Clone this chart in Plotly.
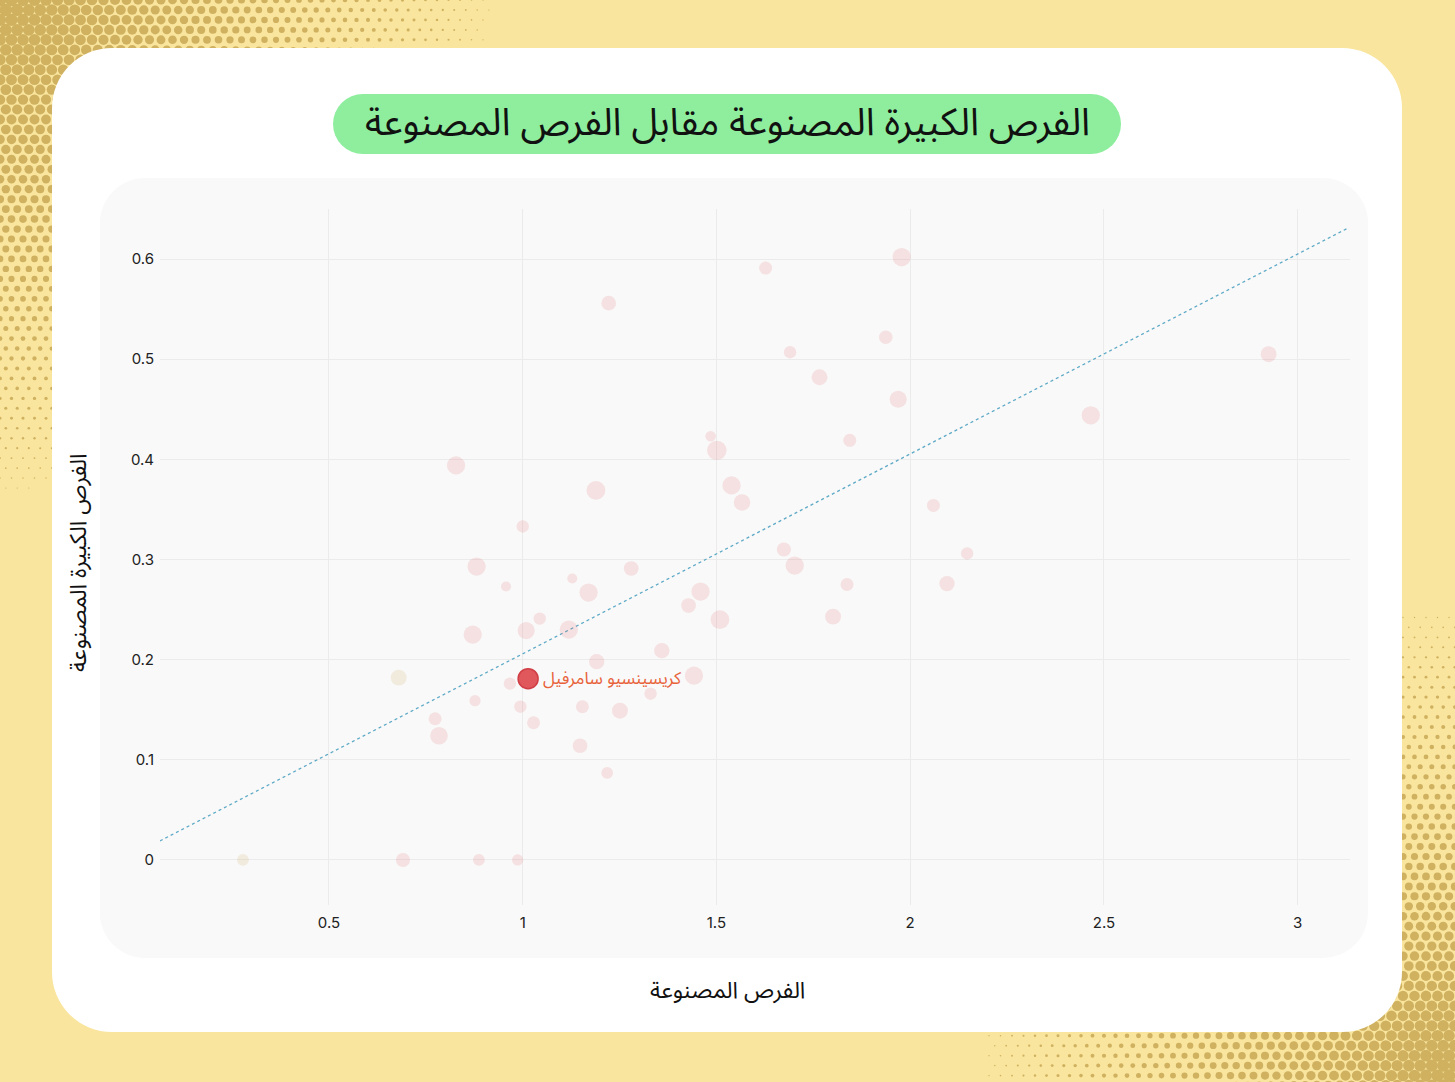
import base64
import math
import plotly.graph_objects as go

# chances created (x) vs big chances created (y), per 90
chances_created = [0.278, 0.680, 0.691, 0.887, 0.987, 0.828, 0.881, 0.871, 0.774, 0.784,
                   0.877, 0.957, 1.000, 1.009, 0.967, 0.994, 1.028, 1.044, 1.128, 1.119,
                   1.170, 1.189, 1.222, 1.191, 1.154, 1.148, 1.218, 1.251, 1.280, 1.330,
                   1.359, 1.428, 1.442, 1.459, 1.485, 1.501, 1.509, 1.539, 1.566, 1.627,
                   1.674, 1.690, 1.702, 1.766, 1.801, 1.837, 1.844, 1.937, 1.969, 1.978,
                   2.060, 2.095, 2.147, 2.466, 2.925]
big_chances = [0.000, 0.182, 0.000, 0.000, 0.000, 0.394, 0.293, 0.225, 0.141, 0.124,
               0.159, 0.273, 0.333, 0.229, 0.176, 0.153, 0.137, 0.241, 0.281, 0.230,
               0.267, 0.369, 0.556, 0.198, 0.153, 0.114, 0.087, 0.149, 0.291, 0.166,
               0.209, 0.254, 0.184, 0.268, 0.423, 0.409, 0.240, 0.374, 0.357, 0.591,
               0.310, 0.507, 0.294, 0.482, 0.243, 0.275, 0.419, 0.522, 0.460, 0.602,
               0.354, 0.276, 0.306, 0.444, 0.505]
matches = [20, 27, 24, 20, 19, 31, 31, 31, 22, 30,
           19, 17, 21, 29, 21, 21, 22, 21, 17, 31,
           31, 32, 25, 26, 22, 25, 20, 27, 25, 21,
           26, 25, 31, 31, 18, 33, 32, 31, 28, 22,
           24, 21, 31, 27, 27, 22, 22, 23, 29, 31,
           22, 26, 21, 31, 27]
group = ["B", "B"] + ["A"] * 53

highlight_name = "كريسينسيو سامرفيل"
highlight_x = 1.014
highlight_y = 0.181
highlight_matches = 34

trend_x = [0.064, 3.13]
trend_y = [0.019, 0.631]

title = "الفرص الكبيرة المصنوعة مقابل الفرص المصنوعة"
x_title = "الفرص المصنوعة"
y_title = "الفرص الكبيرة المصنوعة"

W, H = 1455, 1082
PL, PR, PT, PB = 160, 1350, 209, 905  # plot area in px

arabic_font = "Noto Sans Arabic, DejaVu Sans, sans-serif"
page_bg = "#f9e59d"


def px(xp, yp):
    # screen px -> paper coords
    return (xp - PL) / (PR - PL), (PB - yp) / (PB - PT)


# background: yellow page, halftone corners, white card, title pill, grey panel
def halftone(cx, cy, radius, rmax, step=11.5):
    out = []
    row = step * 0.866
    x_lo, x_hi = max(0, cx - radius), min(W, cx + radius)
    y_lo, y_hi = max(0, cy - radius), min(H, cy + radius)
    for k in range(int(y_lo // row) - 1, int(y_hi // row) + 2):
        for m in range(int(x_lo // step) - 1, int(x_hi // step) + 2):
            x, y = m * step + (k % 2) * step / 2, k * row
            d = math.hypot(x - cx, y - cy)
            r = rmax * (1 - d / radius)
            if r > 0.6:
                out.append(f'<circle cx="{x:.1f}" cy="{y:.1f}" r="{r:.2f}"/>')
    return out


def rect(x, y, w, h, r, fill):
    return f'<rect x="{x}" y="{y}" width="{w}" height="{h}" rx="{r}" ry="{r}" fill="{fill}"/>'


svg = [f'<svg xmlns="http://www.w3.org/2000/svg" width="{W}" height="{H}" viewBox="0 0 {W} {H}">',
       f'<rect width="{W}" height="{H}" fill="{page_bg}"/>',
       '<g fill="#cfb160">']
svg += halftone(0, 0, 540, 6.4)
svg += halftone(W, H, 520, 6.4)
svg += ['</g>',
        rect(52, 48, 1350, 984, 60, "#ffffff"),
        rect(333, 94, 788, 60, 30, "#8eee9e"),
        rect(100, 178, 1268, 780, 45, "#f9f9f9"),
        '</svg>']
bg_uri = "data:image/svg+xml;base64," + base64.b64encode("".join(svg).encode()).decode()

colors = {"A": "rgba(226,115,120,0.26)", "B": "rgba(210,180,110,0.28)"}

fig = go.Figure()

fig.add_trace(go.Scatter(
    x=trend_x, y=trend_y, mode="lines",
    line=dict(color="#5eaac6", width=1.3, dash="3px,3px"),
    hoverinfo="skip", showlegend=False))

fig.add_trace(go.Scatter(
    x=chances_created, y=big_chances, mode="markers",
    marker=dict(size=matches, sizemode="diameter", sizeref=1.7,
                color=[colors[g] for g in group], line=dict(width=0)),
    showlegend=False))

fig.add_trace(go.Scatter(
    x=[highlight_x], y=[highlight_y], mode="markers",
    marker=dict(size=[highlight_matches], sizemode="diameter", sizeref=1.7,
                color="#e0585c", opacity=1, line=dict(color="#d13f46", width=1.5)),
    showlegend=False))

annotations = [
    dict(x=highlight_x, y=highlight_y, xref="x", yref="y", text=highlight_name,
         showarrow=False, xanchor="left", xshift=13,
         font=dict(family=arabic_font, size=17, color="#e8623a")),
]
tx, ty = px(727, 123)
annotations.append(dict(x=tx, y=ty, xref="paper", yref="paper", text=title, showarrow=False,
                        xanchor="center", yanchor="middle",
                        font=dict(family=arabic_font, size=38, color="#111111")))
ax, ay = px(727, 990)
annotations.append(dict(x=ax, y=ay, xref="paper", yref="paper", text=x_title, showarrow=False,
                        xanchor="center", yanchor="middle",
                        font=dict(family=arabic_font, size=23, color="#111111")))
bx, by = px(78, 563)
annotations.append(dict(x=bx, y=by, xref="paper", yref="paper", text=y_title, showarrow=False,
                        textangle=-90, xanchor="center", yanchor="middle",
                        font=dict(family=arabic_font, size=23, color="#111111")))

ix, iy = px(0, 0)
fig.update_layout(
    width=W, height=H,
    margin=dict(l=PL, r=W - PR, t=PT, b=H - PB, pad=0),
    paper_bgcolor=page_bg,
    plot_bgcolor="rgba(0,0,0,0)",
    images=[dict(source=bg_uri, xref="paper", yref="paper", x=ix, y=iy,
                 sizex=W / (PR - PL), sizey=H / (PB - PT),
                 xanchor="left", yanchor="top", sizing="stretch", layer="below")],
    annotations=annotations,
    font=dict(family="Inter, sans-serif", size=15, color="#222222"),
    xaxis=dict(range=[0.064, 3.135], tickvals=[0.5, 1, 1.5, 2, 2.5, 3],
               ticktext=["0.5", "1", "1.5", "2", "2.5", "3"],
               showgrid=True, gridcolor="#ebebeb", gridwidth=1, zeroline=False,
               showline=False, ticks="", ticklabelstandoff=7),
    yaxis=dict(range=[-0.045, 0.65], tickvals=[0, 0.1, 0.2, 0.3, 0.4, 0.5, 0.6],
               ticktext=["0", "0.1", "0.2", "0.3", "0.4", "0.5", "0.6"],
               showgrid=True, gridcolor="#ebebeb", gridwidth=1, zeroline=False,
               showline=False, ticks="", ticklabelstandoff=5),
)

# drop the default body margin so the figure sits flush with the window
fig.write_html("out.html", config={"displayModeBar": False},
               post_script=f"document.body.style.margin='0';document.body.style.background='{page_bg}';")
